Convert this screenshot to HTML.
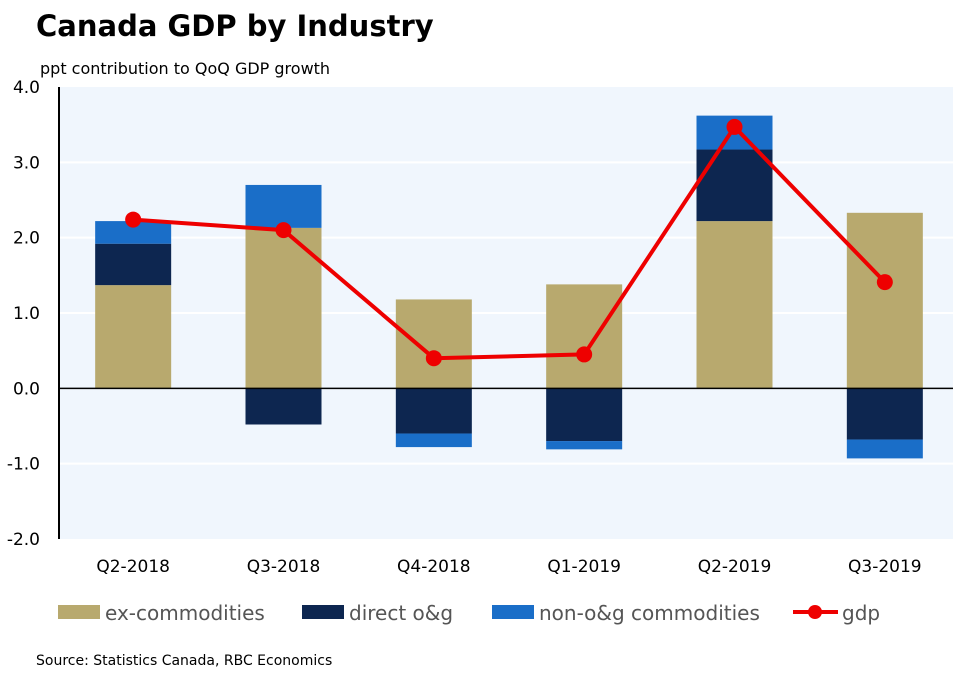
<!DOCTYPE html>
<html><head><meta charset="utf-8"><style>
body{margin:0;background:#fff;width:953px;height:684px;overflow:hidden;font-family:"DejaVu Sans","Liberation Sans",sans-serif;}
svg text{font-family:"DejaVu Sans","Liberation Sans",sans-serif;}
</style></head><body>
<svg id="chart" width="953" height="684">
<text x="36" y="36" font-size="29" font-weight="bold" fill="#000">Canada GDP by Industry</text>
<text x="40" y="74" font-size="16" fill="#000">ppt contribution to QoQ GDP growth</text>
<text x="36" y="665" font-size="14" fill="#000">Source: Statistics Canada, RBC Economics</text>
<g id="plot"></g>
<g id="legend">
<rect x="58" y="605" width="42" height="14" fill="#b8a96e"/>
<text x="105" y="620" font-size="20" fill="#555">ex-commodities</text>
<rect x="302" y="605" width="42" height="14" fill="#0d2650"/>
<text x="349" y="620" font-size="20" fill="#555">direct o&amp;g</text>
<rect x="492" y="605" width="42" height="14" fill="#1a6ec8"/>
<text x="539" y="620" font-size="20" fill="#555">non-o&amp;g commodities</text>
<line x1="793" y1="612" x2="838" y2="612" stroke="#ee0000" stroke-width="4"/>
<circle cx="815" cy="612" r="7" fill="#ee0000"/>
<text x="842" y="620" font-size="20" fill="#555">gdp</text>
</g>
</svg>
<script>
const categories=["Q2-2018","Q3-2018","Q4-2018","Q1-2019","Q2-2019","Q3-2019"];
const exCommodities=[1.37,2.13,1.18,1.38,2.22,2.33];
const directOG=[0.55,-0.48,-0.6,-0.7,0.95,-0.68];
const nonOG=[0.3,0.57,-0.18,-0.11,0.45,-0.25];
const gdp=[2.24,2.1,0.4,0.45,3.47,1.41];
const yTicks=[4,3,2,1,0,-1,-2];
const yTickLabels=["4.0","3.0","2.0","1.0","0.0","-1.0","-2.0"];
const NS="http://www.w3.org/2000/svg";
const g=document.getElementById('plot');
const L=59,R=953,T=87,B=539,ymax=4,ymin=-2;
const y=v=>T+(ymax-v)/(ymax-ymin)*(B-T);
const step=(R-L+8)/categories.length;
const x=i=>58+step*(i+0.5);
const bw=76;
function mk(tag,attrs){const e=document.createElementNS(NS,tag);for(const k in attrs)e.setAttribute(k,attrs[k]);g.appendChild(e);return e;}
let e=mk('rect',{x:L,y:T,width:R-L,height:B-T,fill:'#f0f6fd'});


yTicks.forEach((t,i)=>{
 if(t!==0&&t!==ymin&&t!==ymax){let l=mk('line',{x1:L,x2:R,y1:y(t),y2:y(t),stroke:'#fff','stroke-width':2});
 
 }
 let tx=mk('text',{x:40,y:y(t)+6,'font-size':17,'text-anchor':'end',fill:'#000'});
 tx.textContent=yTickLabels[i];
 
 
});
const series=[[exCommodities,'#b8a96e','ex-commodities'],[directOG,'#0d2650','direct-og'],[nonOG,'#1a6ec8','non-og']];
categories.forEach((c,i)=>{
 let pos=0,neg=0;
 series.forEach(([arr,col,nm])=>{
  const v=arr[i];let a,b;
  if(v>=0){a=pos;b=pos+v;pos=b;}else{a=neg;b=neg+v;neg=b;}
  const y1=y(Math.max(a,b)),y2=y(Math.min(a,b));
  let r=mk('rect',{x:x(i)-bw/2,y:y1,width:bw,height:y2-y1,fill:col});
  
  
 });
 let tx=mk('text',{x:x(i),y:572,'font-size':17,'text-anchor':'middle',fill:'#000'});
 tx.textContent=c;
 
 
});
let z=mk('line',{x1:L,x2:R,y1:y(0),y2:y(0),stroke:'#000','stroke-width':1.5});


let ax=mk('line',{x1:L,x2:L,y1:T,y2:B,stroke:'#000','stroke-width':2});


let p=mk('polyline',{points:gdp.map((v,i)=>x(i)+','+y(v)).join(' '),fill:'none',stroke:'#ee0000','stroke-width':4});


gdp.forEach((v,i)=>{let c=mk('circle',{cx:x(i),cy:y(v),r:8,fill:'#ee0000'});
 
 });
</script>
</body></html>
